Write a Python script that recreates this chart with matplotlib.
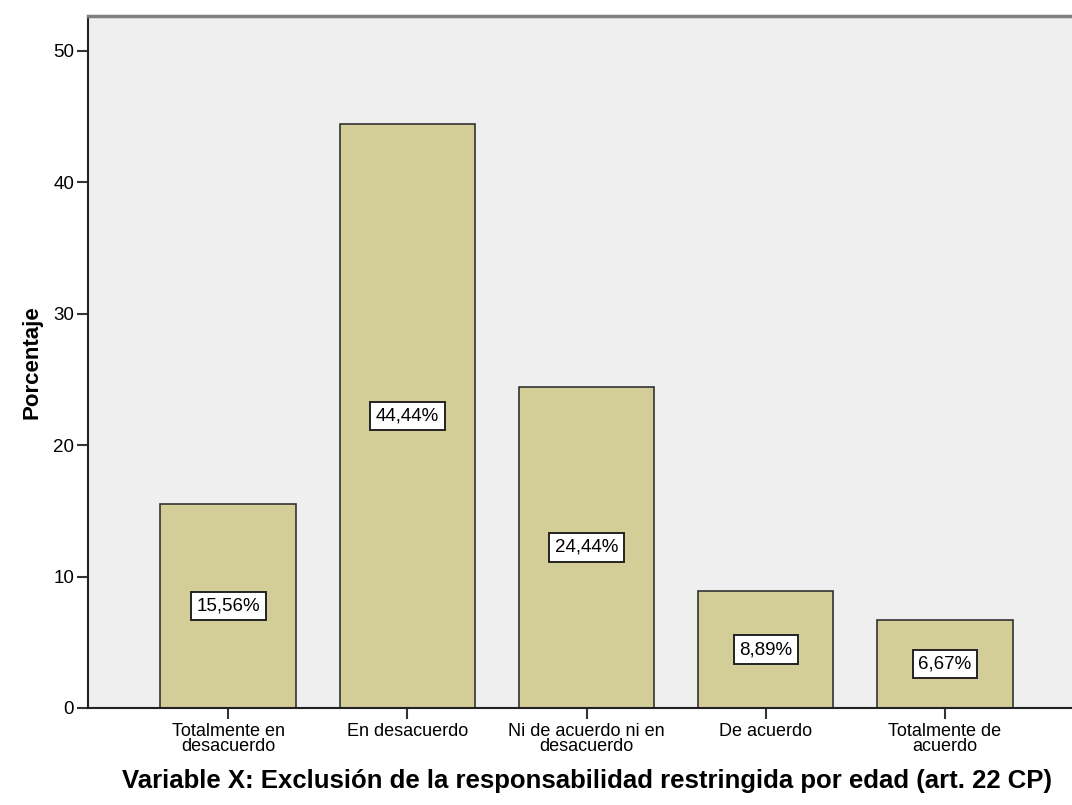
import matplotlib.pyplot as plt

plt.rcParams['font.family'] = ['Liberation Sans', 'DejaVu Sans']

categorias = ['Totalmente en\ndesacuerdo', 'En desacuerdo', 'Ni de acuerdo ni en\ndesacuerdo',
              'De acuerdo', 'Totalmente de\nacuerdo']
porcentajes = [15.56, 44.44, 24.44, 8.89, 6.67]
etiquetas = ['15,56%', '44,44%', '24,44%', '8,89%', '6,67%']

fig = plt.figure(figsize=(10.72, 8.05), dpi=100)
# axes run past the right edge of the figure, like the original
ax = fig.add_axes([88/1072, 1 - 708/805, 997/1072, (708 - 16)/805])
ax.set_facecolor('#efefef')

x = range(len(categorias))
ax.bar(x, porcentajes, width=0.755, color='#d3ce97', edgecolor='#333333', linewidth=1.2, zorder=2)

for i, (v, t) in enumerate(zip(porcentajes, etiquetas)):
    ax.text(i, v / 2, t, ha='center', va='center', fontsize=13.5, zorder=3,
            bbox=dict(boxstyle='square,pad=0.3', facecolor='white', edgecolor='#222222', linewidth=1.4))

ax.set_xlim(-0.782, 4.782)
ax.set_ylim(0, 52.66)
ax.set_yticks([0, 10, 20, 30, 40, 50])
ax.set_xticks(list(x))
ax.set_xticklabels(categorias, fontsize=13, linespacing=0.85)
ax.tick_params(axis='y', labelsize=13.5, length=8, width=1.5, color='#333333', pad=2)
ax.tick_params(axis='x', length=8, width=1.5, color='#333333', pad=3)

for s in ['left', 'bottom']:
    ax.spines[s].set_color('#222222')
    ax.spines[s].set_linewidth(1.5)
ax.spines['top'].set_color('#7f7f7f')
ax.spines['top'].set_linewidth(2.5)
ax.spines['right'].set_visible(False)

ax.set_ylabel('Porcentaje', fontsize=16, fontweight='bold', labelpad=8)
ax.set_xlabel('Variable X: Exclusión de la responsabilidad restringida por edad (art. 22 CP)',
              fontsize=18.5, fontweight='bold', labelpad=10)

fig.savefig('out.png', dpi=100)
